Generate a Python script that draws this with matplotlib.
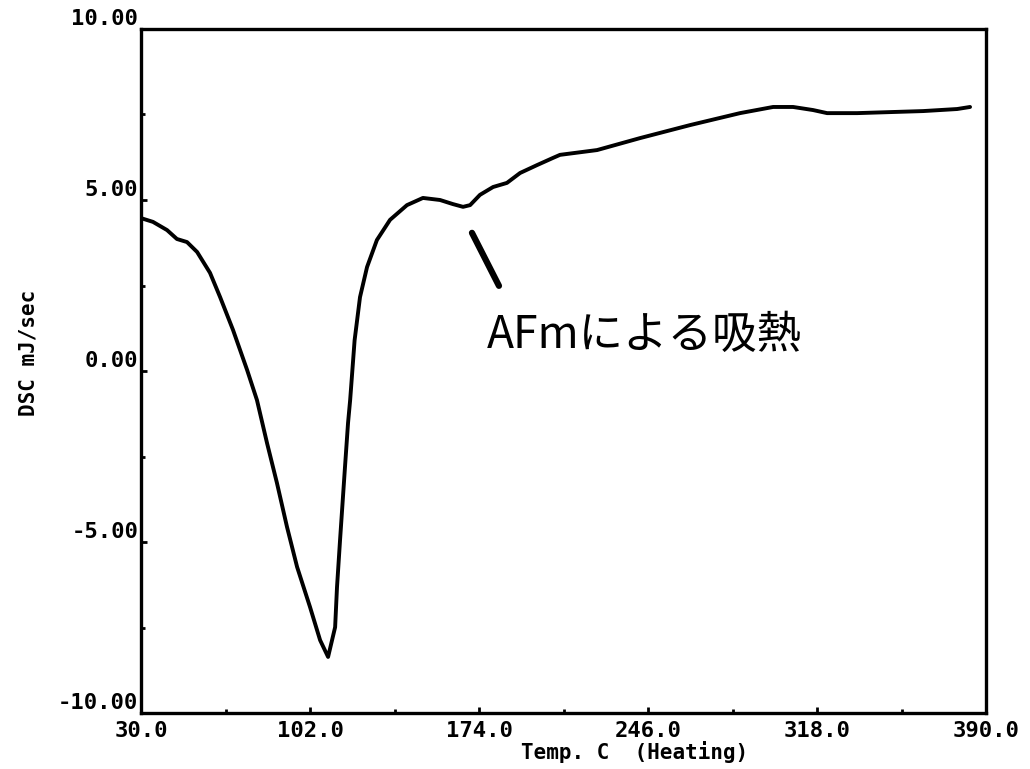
import numpy as np
import matplotlib.pyplot as plt

# DSC curve (heating)
temp = [30.0, 35.1, 41.1, 45.3, 49.6, 53.9, 59.4, 63.7, 69.2, 75.2,
        79.4, 83.7, 87.9, 92.2, 96.5, 102.0, 106.3, 109.7, 112.7, 113.5,
        114.8, 116.9, 118.2, 119.1, 121.0, 123.3, 126.3, 130.5, 136.1, 143.3, 150.1,
        157.4, 162.9, 167.2, 170.2, 174.4, 180.0, 185.9, 191.5, 198.7, 205.5,
        208.5, 224.3, 242.6, 263.9, 285.2, 299.3, 307.8, 316.3, 322.3, 335.1,
        349.1, 363.2, 377.7, 383.2]
dsc = [4.47, 4.36, 4.12, 3.86, 3.77, 3.48, 2.87, 2.16, 1.20, 0.03,
       -0.85, -2.11, -3.27, -4.56, -5.73, -6.90, -7.87, -8.36, -7.49, -6.32,
       -4.94, -2.81, -1.52, -0.85, 0.90, 2.16, 3.04, 3.83, 4.42, 4.85, 5.06,
       5.00, 4.88, 4.80, 4.85, 5.15, 5.38, 5.50, 5.79, 6.02, 6.23,
       6.32, 6.46, 6.81, 7.19, 7.54, 7.72, 7.72, 7.63, 7.54, 7.54,
       7.57, 7.60, 7.66, 7.72]

xticks = [30.0, 102.0, 174.0, 246.0, 318.0, 390.0]
yticks = [-10.0, -5.0, 0.0, 5.0, 10.0]

# pointer line and note for the AFm dip
pointer_x = [171.0, 182.5]
pointer_y = [4.04, 2.49]
note = 'AFmによる吸熱'

fig = plt.figure(figsize=(10.30, 7.69), dpi=100)
ax = fig.add_axes([0.1369, 0.0728, 0.8204, 0.8895])

ax.plot(temp, dsc, color='black', lw=2.8, solid_capstyle='round',
        solid_joinstyle='round')
ax.plot(pointer_x, pointer_y, color='black', lw=4.5, solid_capstyle='round')
ax.text(177.5, 1.05, note, fontsize=32, family=['Noto Sans CJK JP', 'DejaVu Sans'],
        ha='left', va='center')

ax.set_xlim(30, 390)
ax.set_ylim(-10, 10)
for s in ax.spines.values():
    s.set_linewidth(2.4)

tick_font = dict(family='DejaVu Sans Mono', weight='bold', size=16)
ax.set_xticks(xticks)
ax.set_xticklabels([f'{v:.1f}' for v in xticks], **tick_font)
ax.set_yticks(yticks)
ax.set_yticklabels([f'{v:.2f}' for v in yticks], **tick_font)
for lbl in ax.get_yticklabels():
    lbl.set_verticalalignment('bottom')

ax.set_xticks([66.0, 138.0, 210.0, 282.0, 354.0], minor=True)
ax.set_yticks([-7.5, -2.5, 2.5, 7.5], minor=True)
ax.tick_params(which='both', direction='in', width=2, color='black')
ax.tick_params(which='major', length=4)
ax.tick_params(which='minor', length=3)
ax.tick_params(axis='y', pad=2)
ax.tick_params(axis='x', pad=6)

fig.text(635 / 1030, 1 - 752 / 769, 'Temp. C  (Heating)', ha='center', va='center',
         family='DejaVu Sans Mono', weight='bold', size=15)
fig.text(28 / 1030, 1 - 353 / 769, 'DSC mJ/sec', ha='center', va='center', rotation=90,
         family='DejaVu Sans Mono', weight='bold', size=15)

fig.savefig('out.png', dpi=100)
